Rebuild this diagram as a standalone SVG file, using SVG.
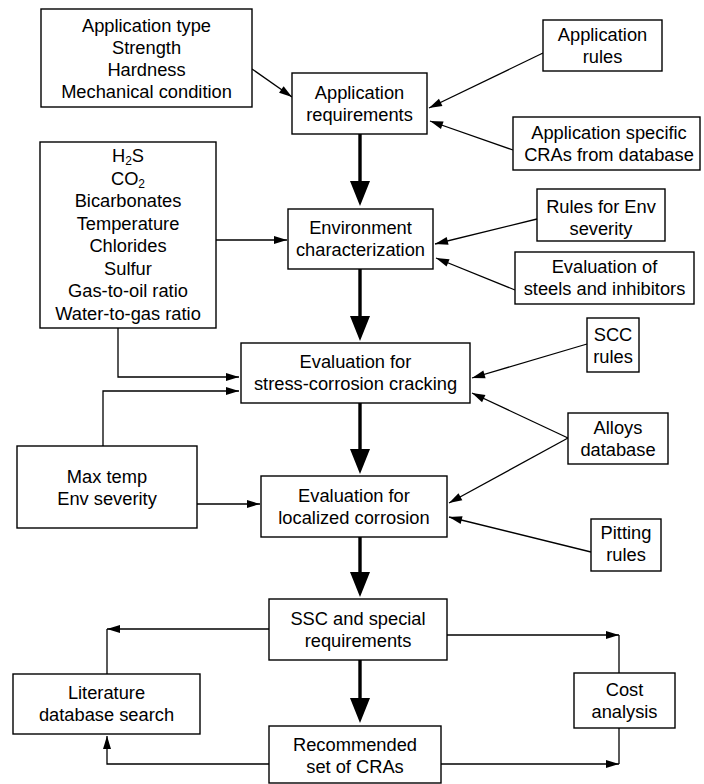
<svg xmlns="http://www.w3.org/2000/svg" width="704" height="784" viewBox="0 0 704 784">
  <style>
    .box { fill: #fff; stroke: #000; stroke-width: 1.4; }
    .lbl { font-family: "Liberation Sans", Arial, Helvetica, sans-serif; font-size: 18.3px; fill: #000; text-anchor: middle; }
    .sub { font-size: 12px; }
    .thin { fill: none; stroke: #000; stroke-width: 1.3; }
    .thick { fill: none; stroke: #000; stroke-width: 3.4; }
  </style>
  <defs>
    <marker id="ah" markerUnits="userSpaceOnUse" markerWidth="14" markerHeight="8" refX="13" refY="4" orient="auto" overflow="visible">
      <path d="M0,0 L13,4 L0,8 z" fill="#000"/>
    </marker>
    <marker id="ahBig" markerUnits="userSpaceOnUse" markerWidth="26" markerHeight="20" refX="1" refY="10" orient="auto" overflow="visible">
      <path d="M0,0 L25,10 L0,20 z" fill="#000"/>
    </marker>
  </defs>

  <rect width="704" height="784" fill="#fff"/>

  <!-- connectors -->
  <g id="connectors">
    <!-- main flow (heavy arrows) -->
    <line class="thick" x1="360" y1="134" x2="360" y2="182" marker-end="url(#ahBig)"/>
    <line class="thick" x1="360" y1="269" x2="360" y2="317" marker-end="url(#ahBig)"/>
    <line class="thick" x1="360" y1="403" x2="360" y2="450" marker-end="url(#ahBig)"/>
    <line class="thick" x1="360" y1="537" x2="360" y2="573" marker-end="url(#ahBig)"/>
    <line class="thick" x1="360" y1="660" x2="360" y2="699" marker-end="url(#ahBig)"/>

    <!-- inputs to application requirements -->
    <path class="thin" d="M252,69 L292,97" marker-end="url(#ah)"/>
    <path class="thin" d="M543,53 L429,108" marker-end="url(#ah)"/>
    <path class="thin" d="M513,150 L430,121" marker-end="url(#ah)"/>

    <!-- inputs to environment characterization -->
    <path class="thin" d="M216,240 L287,240" marker-end="url(#ah)"/>
    <path class="thin" d="M537,219 L435,244" marker-end="url(#ah)"/>
    <path class="thin" d="M515,290 L436,258" marker-end="url(#ah)"/>

    <!-- inputs to SCC evaluation -->
    <path class="thin" d="M118,328 L118,377 L239,377" marker-end="url(#ah)"/>
    <path class="thin" d="M103,446 L103,391 L239,391" marker-end="url(#ah)"/>
    <path class="thin" d="M587,344 L472,378" marker-end="url(#ah)"/>
    <path class="thin" d="M568,438 L472,393" marker-end="url(#ah)"/>

    <!-- inputs to localized corrosion evaluation -->
    <path class="thin" d="M568,438 L449,503" marker-end="url(#ah)"/>
    <path class="thin" d="M591,552 L449,517" marker-end="url(#ah)"/>
    <path class="thin" d="M197,504 L260,504" marker-end="url(#ah)"/>

    <!-- side loops -->
    <path class="thin" d="M107,674 L107,629"/>
    <path class="thin" d="M269,629 L107,629" marker-end="url(#ah)"/>
    <path class="thin" d="M269,764 L107,764 L107,736" marker-end="url(#ah)"/>
    <path class="thin" d="M619,635 L619,673"/>
    <path class="thin" d="M447,635 L619,635" marker-end="url(#ah)"/>
    <path class="thin" d="M619,728 L619,764"/>
    <path class="thin" d="M441,764 L619,764" marker-end="url(#ah)"/>
  </g>

  <!-- nodes -->
  <g id="n_apptype">
    <rect class="box" x="41" y="9" width="211" height="98"/>
    <text class="lbl" x="146.5" y="32">Application type</text>
    <text class="lbl" x="146.5" y="54">Strength</text>
    <text class="lbl" x="146.5" y="76">Hardness</text>
    <text class="lbl" x="146.5" y="98">Mechanical condition</text>
  </g>

  <g id="n_appreq">
    <rect class="box" x="292" y="73" width="135" height="61"/>
    <text class="lbl" x="359.5" y="99">Application</text>
    <text class="lbl" x="359.5" y="121">requirements</text>
  </g>

  <g id="n_apprules">
    <rect class="box" x="543" y="20" width="119" height="51"/>
    <text class="lbl" x="602.5" y="41">Application</text>
    <text class="lbl" x="602.5" y="63">rules</text>
  </g>

  <g id="n_appspec">
    <rect class="box" x="513" y="117" width="187" height="53"/>
    <text class="lbl" x="609" y="139">Application specific</text>
    <text class="lbl" x="609" y="161">CRAs from database</text>
  </g>

  <g id="n_envparams">
    <rect class="box" x="40" y="142" width="176" height="186"/>
    <text class="lbl" x="128" y="162">H<tspan class="sub" dy="3.2">2</tspan><tspan dy="-3.2">S</tspan></text>
    <text class="lbl" x="128" y="184.5">CO<tspan class="sub" dy="3.2">2</tspan></text>
    <text class="lbl" x="128" y="207">Bicarbonates</text>
    <text class="lbl" x="128" y="229.5">Temperature</text>
    <text class="lbl" x="128" y="252">Chlorides</text>
    <text class="lbl" x="128" y="274.5">Sulfur</text>
    <text class="lbl" x="128" y="297">Gas-to-oil ratio</text>
    <text class="lbl" x="128" y="319.5">Water-to-gas ratio</text>
  </g>

  <g id="n_envchar">
    <rect class="box" x="288" y="209" width="145" height="60"/>
    <text class="lbl" x="360.5" y="234">Environment</text>
    <text class="lbl" x="360.5" y="256">characterization</text>
  </g>

  <g id="n_rulesenv">
    <rect class="box" x="537" y="189" width="128" height="52"/>
    <text class="lbl" x="601" y="213">Rules for Env</text>
    <text class="lbl" x="601" y="235">severity</text>
  </g>

  <g id="n_steels">
    <rect class="box" x="515" y="252" width="179" height="52"/>
    <text class="lbl" x="604.5" y="273">Evaluation of</text>
    <text class="lbl" x="604.5" y="295">steels and inhibitors</text>
  </g>

  <g id="n_scc">
    <rect class="box" x="241" y="343" width="229" height="60"/>
    <text class="lbl" x="355.5" y="368">Evaluation for</text>
    <text class="lbl" x="355.5" y="390">stress-corrosion cracking</text>
  </g>

  <g id="n_sccrules">
    <rect class="box" x="587" y="318" width="52" height="54"/>
    <text class="lbl" x="613" y="341">SCC</text>
    <text class="lbl" x="613" y="363">rules</text>
  </g>

  <g id="n_alloys">
    <rect class="box" x="568" y="413" width="100" height="51"/>
    <text class="lbl" x="618" y="434">Alloys</text>
    <text class="lbl" x="618" y="456">database</text>
  </g>

  <g id="n_maxtemp">
    <rect class="box" x="17" y="446" width="180" height="82"/>
    <text class="lbl" x="107" y="482.5">Max temp</text>
    <text class="lbl" x="107" y="504.5">Env severity</text>
  </g>

  <g id="n_loc">
    <rect class="box" x="261" y="476" width="186" height="61"/>
    <text class="lbl" x="354" y="502">Evaluation for</text>
    <text class="lbl" x="354" y="524">localized corrosion</text>
  </g>

  <g id="n_pitting">
    <rect class="box" x="591" y="519" width="70" height="52"/>
    <text class="lbl" x="626" y="539">Pitting</text>
    <text class="lbl" x="626" y="561">rules</text>
  </g>

  <g id="n_ssc">
    <rect class="box" x="269" y="599" width="178" height="61"/>
    <text class="lbl" x="358" y="625">SSC and special</text>
    <text class="lbl" x="358" y="647">requirements</text>
  </g>

  <g id="n_lit">
    <rect class="box" x="13" y="674" width="187" height="60"/>
    <text class="lbl" x="106.5" y="699">Literature</text>
    <text class="lbl" x="106.5" y="721">database search</text>
  </g>

  <g id="n_cost">
    <rect class="box" x="574" y="673" width="101" height="55"/>
    <text class="lbl" x="624.5" y="696">Cost</text>
    <text class="lbl" x="624.5" y="718">analysis</text>
  </g>

  <g id="n_rec">
    <rect class="box" x="269" y="726" width="172" height="57"/>
    <text class="lbl" x="355" y="751">Recommended</text>
    <text class="lbl" x="355" y="773">set of CRAs</text>
  </g>
</svg>
